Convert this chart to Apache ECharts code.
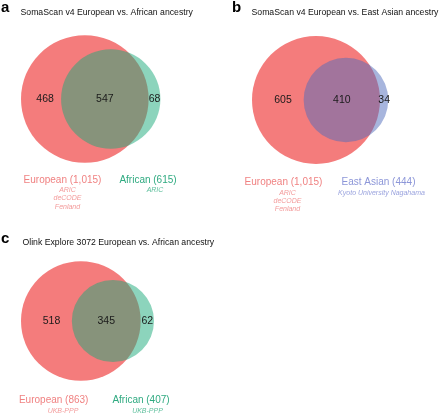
<!DOCTYPE html>
<html>
<head>
<meta charset="utf-8">
<script src="https://cdn.jsdelivr.net/npm/echarts@6/dist/echarts.min.js"></script>
<style>html,body{margin:0;padding:0;background:#fff}#c{width:440px;height:414px}</style>
</head>
<body>
<div id="c"></div>
<script>
// ---- data ----
const panelLetters = ['a', 'b', 'c'];
const panelTitles = [
  'SomaScan v4 European vs. African ancestry',
  'SomaScan v4 European vs. East Asian ancestry',
  'Olink Explore 3072 European vs. African ancestry'
];
const setNamesA = ['European', 'African'];
const setNamesB = ['European', 'East Asian'];
const setNamesC = ['European', 'African'];
// region counts: [only first, both, only second]
const regionsA = [468, 547, 68];
const regionsB = [605, 410, 34];
const regionsC = [518, 345, 62];
const cohortsA = [['ARIC', 'deCODE', 'Fenland'], ['ARIC']];
const cohortsB = [['ARIC', 'deCODE', 'Fenland'], ['Kyoto University Nagahama']];
const cohortsC = [['UKB-PPP'], ['UKB-PPP']];

// ---- styling / layout ----
const FONT = '"Liberation Sans", Arial, Helvetica, sans-serif';
const RED = '#F47C7C';
const GREEN = 'rgba(25,169,121,0.5)';
const BLUE = 'rgba(79,107,187,0.5)';
const panels = [
  { regions: regionsA, names: setNamesA, cohorts: cohortsA, fill2: GREEN,
    grid: { left: 21, top: 19, width: 190, height: 160 }, scale: 3.55,
    nameColors: ['#F08282', '#2FAA80'], subColors: ['#F39A9A', '#5CBE9B'],
    nameX: [62.5, 148], nameY: 180, subX: [67.5, 155], subY: 190,
    title: { x: 20.5, y: 13 }, letter: { x: 1, y: 8 } },
  { regions: regionsB, names: setNamesB, cohorts: cohortsB, fill2: BLUE,
    grid: { left: 252, top: 20, width: 185, height: 160 }, scale: 3.56,
    nameColors: ['#F08282', '#8C96D8'], subColors: ['#F39A9A', '#9AA3DE'],
    nameX: [283.5, 378.5], nameY: 182.5, subX: [287.5, 381.5], subY: 192.5,
    title: { x: 251.5, y: 12.5 }, letter: { x: 232, y: 8 } },
  { regions: regionsC, names: setNamesC, cohorts: cohortsC, fill2: GREEN,
    grid: { left: 21, top: 241, width: 190, height: 160 }, scale: 3.61,
    nameColors: ['#F08282', '#2FAA80'], subColors: ['#F39A9A', '#5CBE9B'],
    nameX: [53.7, 141], nameY: 400.5, subX: [63, 147.5], subY: 410.5,
    title: { x: 22.5, y: 243 }, letter: { x: 1, y: 238.5 } }
];

function lensArea(r1, r2, d) {
  if (d >= r1 + r2) return 0;
  if (d <= Math.abs(r1 - r2)) return Math.PI * Math.min(r1, r2) ** 2;
  const a1 = Math.acos((d * d + r1 * r1 - r2 * r2) / (2 * d * r1));
  const a2 = Math.acos((d * d + r2 * r2 - r1 * r1) / (2 * d * r2));
  const k = Math.sqrt((-d + r1 + r2) * (d + r1 - r2) * (d - r1 + r2) * (d + r1 + r2));
  return r1 * r1 * a1 + r2 * r2 * a2 - 0.5 * k;
}
function solveDistance(r1, r2, target) {
  let lo = Math.abs(r1 - r2), hi = r1 + r2;
  for (let i = 0; i < 80; i++) {
    const mid = (lo + hi) / 2;
    if (lensArea(r1, r2, mid) > target) lo = mid; else hi = mid;
  }
  return (lo + hi) / 2;
}

const grids = [], xAxes = [], yAxes = [], series = [], graphics = [];
panels.forEach((p, i) => {
  const [onlyA, both, onlyB] = p.regions;
  const tot1 = onlyA + both, tot2 = onlyB + both;
  const r1 = Math.sqrt(tot1 / Math.PI), r2 = Math.sqrt(tot2 / Math.PI);
  const d = solveDistance(r1, r2, both);
  const c1 = r1, c2 = r1 + d;
  grids.push(Object.assign({ containLabel: false }, p.grid));
  const hw = p.grid.width / p.scale, hh = p.grid.height / p.scale / 2;
  xAxes.push({ type: 'value', gridIndex: i, min: 0, max: hw, show: false });
  yAxes.push({ type: 'value', gridIndex: i, min: -hh, max: hh, show: false });
  const fills = [RED, p.fill2];
  series.push({
    type: 'custom', xAxisIndex: i, yAxisIndex: i, clip: false, silent: true,
    data: [[c1, 0, r1, 0], [c2, 0, r2, 1]],
    renderItem: function (params, api) {
      const c = api.coord([api.value(0), api.value(1)]);
      const rr = api.size([api.value(2), 0])[0];
      return { type: 'circle', shape: { cx: c[0], cy: c[1], r: rr },
        style: { fill: fills[api.value(3)] } };
    }
  });
  const leftX = 0.4 * (c1 - r1) + 0.6 * (c2 - r2);
  const midX = ((c2 - r2) + (c1 + r1)) / 2;
  const rightX = ((c1 + r1) + (c2 + r2)) / 2;
  series.push({
    type: 'custom', xAxisIndex: i, yAxisIndex: i, clip: false, silent: true, z: 5,
    data: [[leftX, 0, onlyA], [midX, 0, both], [rightX, 0, onlyB]],
    renderItem: function (params, api) {
      const c = api.coord([api.value(0), api.value(1)]);
      return { type: 'text', x: c[0], y: c[1],
        style: { text: String(api.value(2)), fill: '#1a1a1a', font: '10.5px ' + FONT,
          align: 'center', verticalAlign: 'middle' } };
    }
  });
  // panel letter and title
  graphics.push({ type: 'text', x: p.letter.x, y: p.letter.y,
    style: { text: panelLetters[i], font: 'bold 15px ' + FONT, fill: '#000', verticalAlign: 'middle' } });
  graphics.push({ type: 'text', x: p.title.x, y: p.title.y,
    style: { text: panelTitles[i], font: '8.7px ' + FONT, fill: '#111', verticalAlign: 'middle' } });
  // set names + cohorts
  const totals = [tot1, tot2];
  [0, 1].forEach(j => {
    graphics.push({ type: 'text', x: p.nameX[j], y: p.nameY,
      style: { text: p.names[j] + ' (' + totals[j].toLocaleString('en-US') + ')',
        font: '10px ' + FONT, fill: p.nameColors[j], align: 'center', verticalAlign: 'middle' } });
    graphics.push({ type: 'text', x: p.subX[j], y: p.subY - 4,
      style: { text: p.cohorts[j].join('\n'), font: 'italic 7px ' + FONT, lineHeight: 8.3,
        fill: p.subColors[j], align: 'center', verticalAlign: 'top' } });
  });
});

const chart = echarts.init(document.getElementById('c'), null, { renderer: 'canvas' });
chart.setOption({
  animation: false,
  backgroundColor: '#fff',
  grid: grids, xAxis: xAxes, yAxis: yAxes, series: series,
  graphic: graphics
});
</script>
</body>
</html>
